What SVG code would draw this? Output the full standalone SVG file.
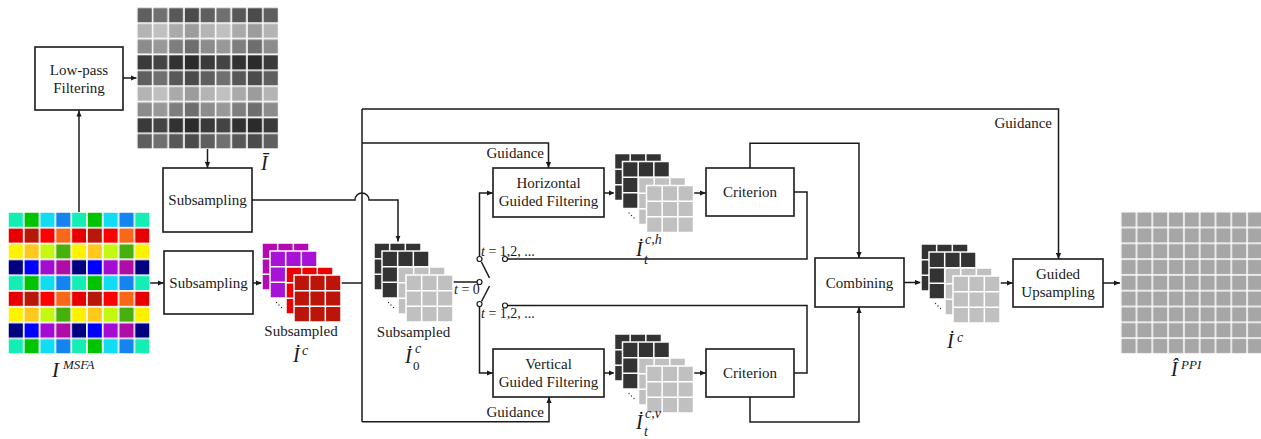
<svg xmlns="http://www.w3.org/2000/svg" width="1261" height="439" viewBox="0 0 1261 439">
<style>
.box{fill:#fff;stroke:#1a1a1a;stroke-width:1.6}
.lbl{font-family:"Liberation Serif","Times New Roman",serif;font-size:15px;fill:#1a1a1a;text-anchor:middle}
.lbe{font-family:"Liberation Serif","Times New Roman",serif;font-size:15px;fill:#1a1a1a;text-anchor:end}
.m{font-family:"Liberation Serif","Times New Roman",serif;font-style:italic;fill:#1a1a1a}
.n{font-family:"Liberation Serif","Times New Roman",serif;font-style:normal;fill:#1a1a1a}
.ln{fill:none;stroke:#1a1a1a;stroke-width:1.5}
.arr{marker-end:url(#ah)}
.sw{fill:#fff;stroke:#1a1a1a;stroke-width:1.2}
</style>
<defs>
<marker id="ah" markerWidth="6" markerHeight="6" refX="6" refY="3" orient="auto" markerUnits="userSpaceOnUse"><path d="M0,0.4 L6,3 L0,5.6Z" fill="#1a1a1a"/></marker>
<pattern id="msfa" x="8" y="212" width="63.2" height="63.2" patternUnits="userSpaceOnUse">
<g stroke="#fff" stroke-width="1.5">
<rect x="0" y="0" width="15.8" height="15.8" fill="#14eeb4"/><rect x="15.8" y="0" width="15.8" height="15.8" fill="#00c400"/><rect x="31.6" y="0" width="15.8" height="15.8" fill="#10dcf4"/><rect x="47.4" y="0" width="15.8" height="15.8" fill="#1484f0"/>
<rect x="0" y="15.8" width="15.8" height="15.8" fill="#e80000"/><rect x="15.8" y="15.8" width="15.8" height="15.8" fill="#b81808"/><rect x="31.6" y="15.8" width="15.8" height="15.8" fill="#ff0000"/><rect x="47.4" y="15.8" width="15.8" height="15.8" fill="#f86818"/>
<rect x="0" y="31.6" width="15.8" height="15.8" fill="#fff200"/><rect x="15.8" y="31.6" width="15.8" height="15.8" fill="#ffc81c"/><rect x="31.6" y="31.6" width="15.8" height="15.8" fill="#c4f810"/><rect x="47.4" y="31.6" width="15.8" height="15.8" fill="#48b00c"/>
<rect x="0" y="47.4" width="15.8" height="15.8" fill="#000080"/><rect x="15.8" y="47.4" width="15.8" height="15.8" fill="#0000ff"/><rect x="31.6" y="47.4" width="15.8" height="15.8" fill="#a40cd4"/><rect x="47.4" y="47.4" width="15.8" height="15.8" fill="#b00ca8"/>
</g>
</pattern>
<pattern id="gray" x="136.8" y="7.3" width="63" height="63" patternUnits="userSpaceOnUse">
<g stroke="#fff" stroke-width="1.5">
<rect x="0" y="0" width="15.75" height="15.75" fill="#5f5f5f"/><rect x="15.75" y="0" width="15.75" height="15.75" fill="#707070"/><rect x="31.5" y="0" width="15.75" height="15.75" fill="#585858"/><rect x="47.25" y="0" width="15.75" height="15.75" fill="#4b4b4b"/>
<rect x="0" y="15.75" width="15.75" height="15.75" fill="#b4b4b4"/><rect x="15.75" y="15.75" width="15.75" height="15.75" fill="#c0c0c0"/><rect x="31.5" y="15.75" width="15.75" height="15.75" fill="#aaaaaa"/><rect x="47.25" y="15.75" width="15.75" height="15.75" fill="#9c9c9c"/>
<rect x="0" y="31.5" width="15.75" height="15.75" fill="#8c8c8c"/><rect x="15.75" y="31.5" width="15.75" height="15.75" fill="#989898"/><rect x="31.5" y="31.5" width="15.75" height="15.75" fill="#7e7e7e"/><rect x="47.25" y="31.5" width="15.75" height="15.75" fill="#6e6e6e"/>
<rect x="0" y="47.25" width="15.75" height="15.75" fill="#3a3a3a"/><rect x="15.75" y="47.25" width="15.75" height="15.75" fill="#444444"/><rect x="31.5" y="47.25" width="15.75" height="15.75" fill="#323232"/><rect x="47.25" y="47.25" width="15.75" height="15.75" fill="#2b2b2b"/>
</g>
</pattern>
<pattern id="ppi" x="1120.7" y="211.7" width="15.8" height="15.8" patternUnits="userSpaceOnUse">
<rect width="15.8" height="15.8" fill="#a6a6a6" stroke="#fff" stroke-width="1.5"/>
</pattern>
<g id="layer"><rect width="47" height="47" stroke="#fff" stroke-width="1.5"/><path d="M15.67 0V47M31.33 0V47M0 15.67H47M0 31.33H47" stroke="#fff" stroke-width="1.5" fill="none"/></g>
<g id="dots" fill="#333"><circle cx="14.5" cy="59.5" r="0.7"/><circle cx="17" cy="62" r="0.7"/><circle cx="19.5" cy="64.5" r="0.7"/></g>
<g id="stackG"><use href="#layer" fill="#333"/><use href="#layer" x="8" y="8" fill="#333"/><use href="#dots"/><use href="#layer" x="24" y="24" fill="#c0c0c0"/><use href="#layer" x="32" y="32" fill="#c0c0c0"/></g>
<g id="stackC"><use href="#layer" fill="#b40ab4"/><use href="#layer" x="8" y="8" fill="#a812d6"/><use href="#dots"/><use href="#layer" x="24" y="24" fill="#ee0000"/><use href="#layer" x="32" y="32" fill="#bc1408"/></g>
</defs>
<rect width="1261" height="439" fill="#fff"/>

<g id="connectors">
<path class="ln arr" d="M79 212 V110.5"/>
<path class="ln arr" d="M123 78 H136.5"/>
<path class="ln arr" d="M207.5 149 V168"/>
<path class="ln arr" d="M150 283 H164"/>
<path class="ln arr" d="M253 283 H262"/>
<path class="ln" d="M340 283 H362"/>
<path class="ln" d="M362 109 V421.7"/>
<path class="ln arr" d="M362 109 H1058.5 V259"/>
<path class="ln arr" d="M362 143 H548.5 V168"/>
<path class="ln arr" d="M362 421.7 H549 V397"/>
<path class="ln arr" d="M252 200 H355 A7 7 0 0 1 369 200 H398 V241.5"/>
<path class="ln" d="M453 282 H477"/>
<path class="ln arr" d="M479.5 256.5 V193 H493"/>
<path class="ln arr" d="M479.5 306.5 V373 H493"/>
<path class="ln" d="M481.5 262 L489.5 278"/>
<path class="ln" d="M489.5 286 L481.5 301.5"/>
<path class="ln arr" d="M604 193 H614.5"/>
<path class="ln arr" d="M693 193 H706"/>
<path class="ln arr" d="M604 373 H614.5"/>
<path class="ln arr" d="M693 373 H706"/>
<path class="ln" d="M794 192 H807 V259 H507.5" stroke-width="1.3"/>
<path class="ln" d="M794 373 H807 V305.5 H507.5" stroke-width="1.3"/>
<path class="ln arr" d="M750 168 V143.3 H859 V258"/>
<path class="ln arr" d="M750 397 V422 H859 V307"/>
<path class="ln arr" d="M904 282.5 H921"/>
<path class="ln arr" d="M999.5 283 H1013"/>
<path class="ln arr" d="M1103 283 H1120"/>
<circle class="sw" cx="479.5" cy="259" r="2.5"/>
<circle class="sw" cx="505" cy="259" r="2.5"/>
<circle class="sw" cx="479.5" cy="282" r="2.5"/>
<circle class="sw" cx="479.5" cy="304" r="2.5"/>
<circle class="sw" cx="505" cy="305.5" r="2.5"/>
<text class="lbe" x="544" y="158">Guidance</text>
<text class="lbe" x="544" y="417">Guidance</text>
<text class="lbe" x="1052" y="128">Guidance</text>
<text class="m" x="454" y="294" font-size="14">t<tspan style="font-style:normal"> = 0</tspan></text>
<text class="m" x="481" y="256" font-size="14">t<tspan style="font-style:normal"> = 1,2, ...</tspan></text>
<text class="m" x="481" y="318" font-size="14">t<tspan style="font-style:normal"> = 1,2, ...</tspan></text>
</g>

<g id="msfa-image">
<rect x="8" y="212" width="142.2" height="142.2" fill="url(#msfa)"/>
<text class="m" x="52" y="377" font-size="21">I</text><text class="m" x="63" y="369" font-size="13">MSFA</text>
</g>
<g id="lowpass">
<rect class="box" x="35" y="47" width="88" height="63"/>
<text class="lbl" x="79" y="75">Low-pass</text>
<text class="lbl" x="79" y="93">Filtering</text>
</g>
<g id="lowpass-image">
<rect x="136.8" y="7.3" width="141.75" height="141.75" fill="url(#gray)"/>
<text class="m" x="261" y="170" font-size="20">Ī</text>
</g>
<g id="subsampling-1">
<rect class="box" x="163" y="168" width="89" height="64"/>
<text class="lbl" x="207.5" y="205">Subsampling</text>
</g>
<g id="subsampling-2">
<rect class="box" x="164" y="251" width="89" height="63"/>
<text class="lbl" x="208.5" y="288">Subsampling</text>
</g>
<g id="subsampled-color">
<use href="#stackC" x="262" y="243"/>
<text class="lbl" x="301" y="336">Subsampled</text>
<text class="m" x="293" y="362" font-size="20">İ</text><text class="m" x="302" y="355" font-size="14">c</text>
</g>
<g id="subsampled-init">
<use href="#stackG" x="374" y="243"/>
<text class="lbl" x="413.5" y="337">Subsampled</text>
<text class="m" x="405" y="363" font-size="20">İ</text><text class="m" x="415" y="353" font-size="14">c</text><text class="n" x="413" y="370" font-size="13">0</text>
</g>
<g id="horizontal">
<rect class="box" x="493" y="168" width="111" height="49"/>
<text class="lbl" x="548.5" y="188">Horizontal</text>
<text class="lbl" x="548.5" y="206">Guided Filtering</text>
</g>
<g id="horizontal-out">
<use href="#stackG" x="614.5" y="153.5"/>
<text class="m" x="636" y="256" font-size="20">İ</text><text class="m" x="645" y="244" font-size="14">c,h</text><text class="m" x="644" y="264" font-size="14">t</text>
</g>
<g id="vertical">
<rect class="box" x="493" y="349" width="111" height="48"/>
<text class="lbl" x="548.5" y="369">Vertical</text>
<text class="lbl" x="548.5" y="387">Guided Filtering</text>
</g>
<g id="vertical-out">
<use href="#stackG" x="614.5" y="334"/>
<text class="m" x="636" y="429" font-size="20">İ</text><text class="m" x="645" y="418" font-size="14">c,v</text><text class="m" x="644" y="436" font-size="14">t</text>
</g>
<g id="criterion-h">
<rect class="box" x="706" y="168" width="88" height="48"/>
<text class="lbl" x="750" y="197">Criterion</text>
</g>
<g id="criterion-v">
<rect class="box" x="706" y="349" width="88" height="48"/>
<text class="lbl" x="750" y="378">Criterion</text>
</g>
<g id="combining">
<rect class="box" x="815" y="258" width="89" height="49"/>
<text class="lbl" x="859.5" y="288">Combining</text>
</g>
<g id="combined">
<use href="#stackG" x="921" y="244"/>
<text class="m" x="947" y="348" font-size="20">İ</text><text class="m" x="957" y="342" font-size="14">c</text>
</g>
<g id="guided-upsampling">
<rect class="box" x="1013" y="259" width="90" height="48"/>
<text class="lbl" x="1058" y="279">Guided</text>
<text class="lbl" x="1058" y="297">Upsampling</text>
</g>
<g id="ppi-image">
<rect x="1120.7" y="211.7" width="142.2" height="142.2" fill="url(#ppi)"/>
<text class="m" x="1171" y="376" font-size="20">Î</text><text class="m" x="1181" y="369" font-size="13">PPI</text>
</g>
</svg>
